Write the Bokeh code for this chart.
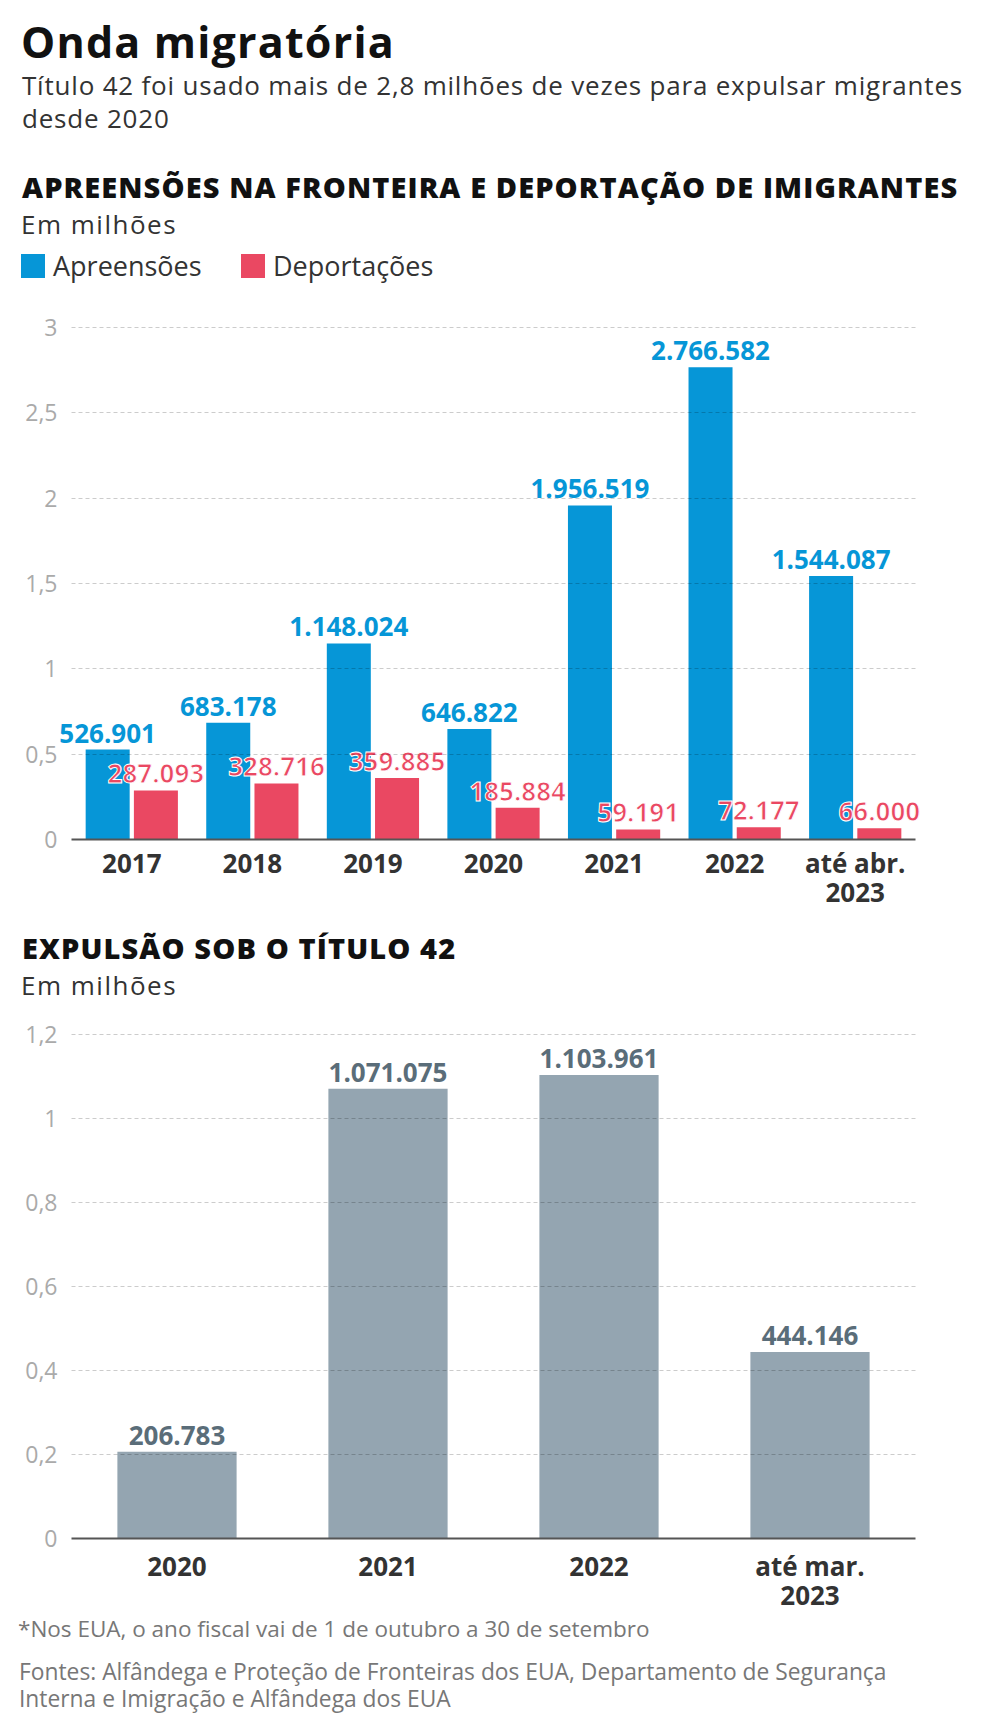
from bokeh.plotting import figure
from bokeh.models import (ColumnDataSource, FactorRange, Range1d, FixedTicker, Div, LabelSet, Grid)
from bokeh.core.properties import value
from bokeh.transform import dodge
from bokeh.layouts import column
from bokeh.embed import file_html
from bokeh.resources import INLINE

FONT = "Open Sans"
BLUE = "#0696d7"
RED = "#ea4862"
GREY_BAR = "#94a5b1"
GREY_LBL = "#5a6d79"

# ---------------- data ----------------
years1 = ["2017", "2018", "2019", "2020", "2021", "2022", "até abr.\n2023"]
series1 = ["Apreensões", "Deportações"]
apreensoes = [526901, 683178, 1148024, 646822, 1956519, 2766582, 1544087]
deportacoes = [287093, 328716, 359885, 185884, 59191, 72177, 66000]
ticks1 = [0, 0.5, 1, 1.5, 2, 2.5, 3]
tick_labels1 = ["0", "0,5", "1", "1,5", "2", "2,5", "3"]

years2 = ["2020", "2021", "2022", "até mar.\n2023"]
expulsoes = [206783, 1071075, 1103961, 444146]
ticks2 = [0, 0.2, 0.4, 0.6, 0.8, 1, 1.2]
tick_labels2 = ["0", "0,2", "0,4", "0,6", "0,8", "1", "1,2"]


def fmt(v):
    return f"{v:,}".replace(",", ".")


W = 976
HAS_CROSS = "cross_bounds" in Grid.properties()


def style_axes(p, ticks, tick_labels, x_standoff, ncat):
    p.outline_line_color = None
    p.background_fill_color = "white"
    p.border_fill_color = "white"
    p.xgrid.visible = False
    p.ygrid.ticker = FixedTicker(ticks=ticks)
    p.ygrid.grid_line_color = "#000000"
    p.ygrid.grid_line_alpha = 0.2
    p.ygrid.grid_line_dash = "4 3"
    p.ygrid.grid_line_width = 1
    p.ygrid.level = "overlay"
    if HAS_CROSS:
        p.ygrid.cross_bounds = (0, ncat)
    ya = p.yaxis[0]
    ya.ticker = FixedTicker(ticks=ticks)
    ya.major_label_overrides = {t: l for t, l in zip(ticks, tick_labels)}
    ya.axis_line_color = None
    ya.major_tick_line_color = None
    ya.minor_tick_line_color = None
    ya.major_tick_out = 0
    ya.major_tick_in = 0
    ya.major_label_standoff = -2
    ya.major_label_text_font = FONT
    ya.major_label_text_font_size = "23px"
    ya.major_label_text_color = "#aaaaaa"
    xa = p.xaxis[0]
    xa.bounds = (0, ncat)
    xa.axis_line_color = "#555555"
    xa.axis_line_width = 2
    xa.major_tick_line_color = None
    xa.minor_tick_line_color = None
    xa.major_tick_out = 0
    xa.major_tick_in = 0
    xa.major_label_standoff = x_standoff
    xa.major_label_text_font = FONT
    xa.major_label_text_font_size = "26px"
    xa.major_label_text_font_style = "bold"
    xa.major_label_text_color = "#333333"
    xa.major_label_text_line_height = 0.82


halo = {}
if "text_outline_color" in LabelSet.properties():
    halo = {"text_outline_color": "white"}

lbl_common = dict(text_align="center", text_baseline="alphabetic", y_offset=7,
                  text_font=value(FONT), text_font_size="26px", text_font_style="bold")

# frame spans x 55..931 in both charts; categories occupy 71..915
# ---------------- chart 1 ----------------
src1 = ColumnDataSource(dict(
    cat=years1,
    apr=[v / 1e6 for v in apreensoes],
    dep=[v / 1e6 for v in deportacoes],
    apr_lbl=[fmt(v) for v in apreensoes],
    dep_lbl=[fmt(v) for v in deportacoes],
))

x1 = FactorRange(*years1, range_padding=0.1327, range_padding_units="absolute")
p1 = figure(width=W, height=631, x_range=x1, y_range=Range1d(0, 3.2273),
            min_border_left=55, min_border_right=45, min_border_top=0, min_border_bottom=80,
            output_backend="svg", toolbar_location=None, title=None)
style_axes(p1, ticks1, tick_labels1, 5, len(years1))

p1.vbar(x=dodge("cat", -0.2, range=p1.x_range), top="apr", width=0.365,
        source=src1, fill_color=BLUE, line_color=None)
p1.vbar(x=dodge("cat", 0.2, range=p1.x_range), top="dep", width=0.365,
        source=src1, fill_color=RED, line_color=None)

p1.add_layout(LabelSet(x=dodge("cat", -0.2, range=p1.x_range), y="apr", text="apr_lbl",
                       source=src1, text_color=BLUE, **lbl_common))
p1.add_layout(LabelSet(x=dodge("cat", 0.2, range=p1.x_range), y="dep", text="dep_lbl",
                       source=src1, text_color=RED, **lbl_common, **halo))

# ---------------- chart 2 ----------------
src2 = ColumnDataSource(dict(
    cat=years2,
    val=[v / 1e6 for v in expulsoes],
    lbl=[fmt(v) for v in expulsoes],
))
x2 = FactorRange(*years2, range_padding=0.0758, range_padding_units="absolute")
p2 = figure(width=W, height=606, x_range=x2, y_range=Range1d(0, 1.2575),
            min_border_left=55, min_border_right=45, min_border_top=0, min_border_bottom=70,
            output_backend="svg", toolbar_location=None, title=None)
style_axes(p2, ticks2, tick_labels2, 9, len(years2))
p2.vbar(x="cat", top="val", width=0.565, source=src2, fill_color=GREY_BAR, line_color=None)
p2.add_layout(LabelSet(x="cat", y="val", text="lbl", source=src2, text_color=GREY_LBL,
                       **lbl_common))

# ---------------- text blocks ----------------
base = "position:absolute;left:22px;white-space:nowrap;font-family:'Open Sans';"
sq = "position:absolute;top:254px;width:24px;height:24px;"
header = Div(width=W, height=288, margin=0, text=(
    "<div style=\"position:relative;width:976px;height:288px;\">"
    f"<div style=\"{base}left:21px;top:20px;font-size:43px;line-height:43px;font-weight:700;letter-spacing:1.2px;color:#111;\">Onda migratória</div>"
    f"<div style=\"{base}top:69px;font-size:26px;line-height:33px;letter-spacing:0.8px;color:#333;\">Título 42 foi usado mais de 2,8 milhões de vezes para expulsar migrantes<br>desde 2020</div>"
    f"<div style=\"{base}top:172px;font-size:29px;line-height:29px;font-weight:800;letter-spacing:1.1px;color:#111;\">APREENSÕES NA FRONTEIRA E DEPORTAÇÃO DE IMIGRANTES</div>"
    f"<div style=\"{base}left:21px;top:211px;font-size:26px;line-height:26px;letter-spacing:1.5px;color:#333;\">Em milhões</div>"
    f"<div style=\"{sq}left:21px;background:{BLUE};\"></div>"
    f"<div style=\"{base}left:53px;top:252px;font-size:27px;line-height:27px;color:#333;\">{series1[0]}</div>"
    f"<div style=\"{sq}left:241px;background:{RED};\"></div>"
    f"<div style=\"{base}left:273px;top:252px;font-size:27px;line-height:27px;color:#333;\">{series1[1]}</div>"
    "</div>"))

mid = Div(width=W, height=91, margin=0, text=(
    "<div style=\"position:relative;width:976px;height:91px;\">"
    f"<div style=\"{base}top:14px;font-size:29px;line-height:29px;font-weight:800;letter-spacing:1.1px;color:#111;\">EXPULSÃO SOB O TÍTULO 42</div>"
    f"<div style=\"{base}left:21px;top:53px;font-size:26px;line-height:26px;letter-spacing:1.5px;color:#333;\">Em milhões</div>"
    "</div>"))

footer = Div(width=W, height=100, margin=0, text=(
    "<div style=\"position:relative;width:976px;height:100px;\">"
    f"<div style=\"{base}left:18px;top:2px;font-size:22.5px;line-height:22.5px;color:#777;\">*Nos EUA, o ano fiscal vai de 1 de outubro a 30 de setembro</div>"
    f"<div style=\"{base}left:19px;top:42px;font-size:22.8px;line-height:27px;color:#777;\">Fontes: Alfândega e Proteção de Fronteiras dos EUA, Departamento de Segurança<br>Interna e Imigração e Alfândega dos EUA</div>"
    "</div>"))

layout = column(header, p1, mid, p2, footer, spacing=0)
open("out.html", "w").write(file_html(layout, INLINE))
